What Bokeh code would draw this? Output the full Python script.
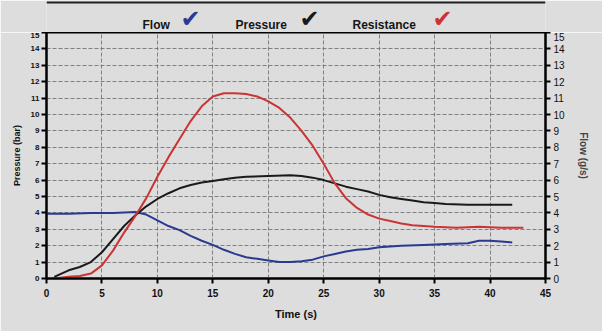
from bokeh.plotting import figure
from bokeh.layouts import column
from bokeh.models import Range1d, LinearAxis, FixedTicker
from bokeh.core.properties import value
from bokeh.embed import file_html
from bokeh.resources import INLINE

# Flow (g/s) - right axis
flow_t = [0, 2, 4, 6, 8, 9, 10, 11, 12, 13, 14, 15, 16, 17, 18, 19, 20, 21, 22, 23, 24,
          25, 26, 27, 28, 29, 30, 32, 34, 36, 38, 39, 40, 41, 42]
flow_v = [3.95, 3.95, 4.0, 4.0, 4.05, 3.9, 3.55, 3.2, 2.95, 2.6, 2.3, 2.05, 1.75, 1.5, 1.3, 1.2,
          1.1, 1.0, 1.0, 1.05, 1.15, 1.35, 1.5, 1.65, 1.75, 1.8, 1.9, 2.0, 2.05, 2.1, 2.15, 2.3,
          2.3, 2.25, 2.2]

# Pressure (bar) - left axis
pres_t = [0.7, 2, 3, 4, 5, 6, 7, 8, 9, 10, 11, 12, 13, 14, 15, 16, 17, 18, 20, 22, 23, 24,
          25, 26, 27, 28, 29, 30, 31, 32, 33, 34, 35, 36, 38, 40, 42]
pres_v = [0.1, 0.5, 0.7, 1.0, 1.6, 2.4, 3.2, 3.85, 4.4, 4.85, 5.2, 5.5, 5.7, 5.85, 5.95, 6.05,
          6.15, 6.2, 6.25, 6.3, 6.25, 6.15, 6.0, 5.8, 5.6, 5.45, 5.3, 5.1, 4.95, 4.85, 4.75,
          4.65, 4.6, 4.55, 4.5, 4.5, 4.5]

# Resistance
res_t = [0.7, 2, 3, 4, 5, 6, 7, 8, 9, 10, 11, 12, 13, 14, 15, 16, 17, 18, 19, 20, 21, 22, 23,
         24, 25, 26, 27, 28, 29, 30, 31, 32, 33, 34, 35, 37, 39, 41, 43]
res_v = [0.0, 0.1, 0.15, 0.3, 0.8, 1.7, 2.8, 3.8, 4.9, 6.2, 7.4, 8.5, 9.6, 10.5, 11.1, 11.3,
         11.3, 11.25, 11.1, 10.8, 10.4, 9.8, 9.0, 8.1, 7.0, 5.8, 4.9, 4.3, 3.9, 3.65, 3.5, 3.35,
         3.25, 3.2, 3.15, 3.1, 3.15, 3.1, 3.1]

x_ticks = [0, 5, 10, 15, 20, 25, 30, 35, 40, 45]
y_ticks = list(range(0, 16))

legend_names = ["Flow", "Pressure", "Resistance"]
legend_colors = ["#2b3a8f", "#1a1a1a", "#cc3333"]

BG = "#dddddd"
FONT = "Liberation Sans"
W, H = 602, 331
TOP_H = 32          # height of the legend strip above the frame
FRAME_BOTTOM = 278  # canvas y of the x axis
FRAME_L, FRAME_R = 46, 545

# ---------- legend strip (its frame is aligned with the chart's frame) ----------
leg = figure(width=W, height=TOP_H, output_backend="svg", toolbar_location=None,
             x_range=Range1d(FRAME_L, FRAME_R), y_range=Range1d(TOP_H, 0),
             min_border_left=FRAME_L, min_border_right=W - FRAME_R,
             min_border_top=0, min_border_bottom=0,
             background_fill_color=BG, border_fill_color=BG,
             outline_line_color=None)
leg.axis.visible = False
leg.grid.visible = False
name_x = [142, 235, 352]
check_x = [180, 299, 432]
leg.text(x=name_x, y=[24, 24, 24], text=legend_names, text_font=value(FONT),
         text_font_style="bold", text_font_size="12px", text_color="#151515",
         text_baseline="middle", text_align="left")
leg.text(x=check_x, y=[18, 18, 18], text=["\u2714"] * 3, text_font=value("DejaVu Sans"),
         text_font_size="24px", text_color=legend_colors,
         text_baseline="middle", text_align="left")
leg.line(x=[FRAME_L, FRAME_R], y=[2, 2], line_color="#222222", line_width=2)

# ---------- main chart ----------
p = figure(width=W, height=H - TOP_H, output_backend="svg", toolbar_location=None,
           x_range=Range1d(0, 45), y_range=Range1d(0, 15),
           min_border_left=FRAME_L, min_border_right=W - FRAME_R, min_border_top=0,
           min_border_bottom=H - FRAME_BOTTOM,
           background_fill_color=BG, border_fill_color=BG,
           outline_line_color="black", outline_line_width=2)
p.extra_y_ranges = {"flow": Range1d(0, 15)}

for ax in [p.xaxis[0], p.yaxis[0]]:
    ax.axis_line_color = "black"
    ax.axis_line_width = 2
    ax.major_tick_line_color = "black"
    ax.major_tick_line_width = 2
    ax.major_tick_in = 0
    ax.major_tick_out = 5
    ax.minor_tick_line_color = None
    ax.major_label_text_font = FONT
    ax.major_label_text_font_style = "bold"
    ax.axis_label_text_font = FONT
    ax.axis_label_text_font_style = "bold"
    ax.axis_label_text_color = "#111111"
    ax.major_label_text_color = "#111111"

p.xaxis.ticker = FixedTicker(ticks=x_ticks)
p.xaxis.major_label_text_font_size = "10px"
p.xaxis.axis_label = "Time (s)"
p.xaxis.axis_label_text_font_size = "11px"
p.xaxis.axis_label_standoff = 8

p.yaxis.ticker = FixedTicker(ticks=y_ticks)
p.yaxis.major_label_text_font_size = "8px"
p.yaxis.axis_label = "Pressure (bar)"
p.yaxis.axis_label_text_font_size = "9px"
p.yaxis.axis_label_standoff = 6
p.yaxis.major_label_standoff = 2

ra = LinearAxis(y_range_name="flow", ticker=FixedTicker(ticks=y_ticks),
                axis_label="Flow (g/s)")
ra.axis_line_color = "black"
ra.axis_line_width = 2
ra.major_tick_line_color = "black"
ra.major_tick_line_width = 2
ra.major_tick_in = 0
ra.major_tick_out = 5
ra.minor_tick_line_color = None
ra.major_label_text_font = FONT
ra.major_label_text_font_size = "10px"
ra.major_label_text_color = "#111111"
ra.major_label_standoff = 3
ra.axis_label_text_font = FONT
ra.axis_label_text_font_style = "bold"
ra.axis_label_text_font_size = "10px"
ra.axis_label_standoff = 10
p.add_layout(ra, "right")

p.xgrid.ticker = FixedTicker(ticks=x_ticks[1:-1])
p.ygrid.ticker = FixedTicker(ticks=y_ticks[1:-1])
for g in [p.xgrid[0], p.ygrid[0]]:
    g.grid_line_color = "#6a6a6a"
    g.grid_line_dash = "4 2"
    g.grid_line_width = 1
    g.grid_line_alpha = 0.8

p.line(flow_t, flow_v, y_range_name="flow", line_color=legend_colors[0], line_width=2)
p.line(pres_t, pres_v, line_color=legend_colors[1], line_width=2)
p.line(res_t, res_v, line_color=legend_colors[2], line_width=2)

layout = column(leg, p, spacing=0)
open("out.html", "w").write(file_html(layout, INLINE))
